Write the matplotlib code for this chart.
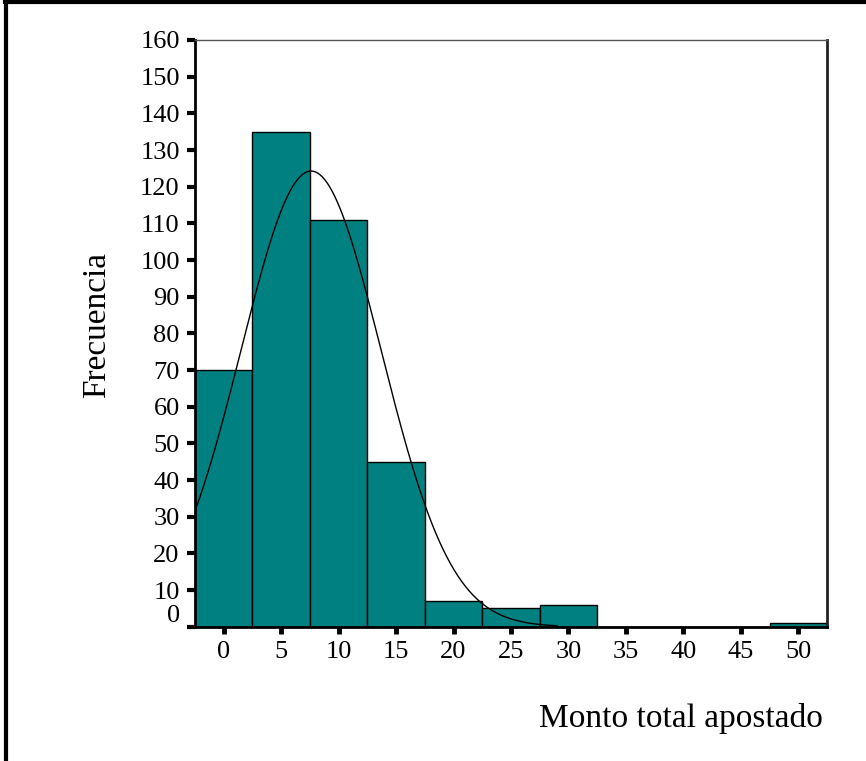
import numpy as np
import matplotlib
matplotlib.use("Agg")
import matplotlib.pyplot as plt
from matplotlib.transforms import ScaledTranslation
from matplotlib.lines import Line2D

# Data
bin_centers = [0, 5, 10, 15, 20, 25, 30, 35, 40, 45, 50]
frequencies = [70, 135, 111, 45, 7, 5, 6, 0, 0, 0, 1]
bin_width = 5
y_ticks = list(range(0, 161, 10))
x_ticks = [0, 5, 10, 15, 20, 25, 30, 35, 40, 45, 50]
curve_mean = 7.6
curve_sd = 6.1
curve_n = 380
curve_range = (-2.5, 29.0)
x_label = "Monto total apostado"
y_label = "Frecuencia"

plt.rcParams['font.family'] = ['Liberation Serif', 'DejaVu Serif']

fig = plt.figure(figsize=(8.66, 7.61), dpi=100)
ax = fig.add_axes([195/866, 1-626.7/761, (827-195)/866, (626.7-40)/761])

ax.bar(bin_centers, frequencies, width=bin_width, color='#008080',
       edgecolor='black', linewidth=1.0, zorder=2)

xs = np.linspace(curve_range[0], curve_range[1], 400)
ys = curve_n * bin_width / (curve_sd * np.sqrt(2*np.pi)) * np.exp(-0.5*((xs-curve_mean)/curve_sd)**2)
ax.plot(xs, ys, color='black', linewidth=1.0, zorder=3)

ax.set_xlim(-2.5, 52.5)
ax.set_ylim(0, 160)
ax.set_yticks(y_ticks)
ax.set_xticks(x_ticks)
ax.tick_params(axis='y', direction='out', length=6, width=3, labelsize=19, pad=5)
ax.tick_params(axis='x', direction='out', length=5, width=3.5, labelsize=19, pad=5)

for s in ['left', 'bottom']:
    ax.spines[s].set_linewidth(2)
    ax.spines[s].set_color('black')
ax.spines['right'].set_linewidth(2)
ax.spines['right'].set_color('#222222')
ax.spines['top'].set_linewidth(1)
ax.spines['top'].set_color('#555555')

fig.canvas.draw()
for lbl in ax.get_yticklabels():
    if lbl.get_text() == '0':
        lbl.set_transform(lbl.get_transform() + ScaledTranslation(0, 13/100, fig.dpi_scale_trans))

fig.text(681/866, 1-718/761, x_label, ha='center', va='center', fontsize=24)
fig.text(97/866, 1-325/761, y_label, ha='center', va='center', fontsize=24, rotation=90)

# outer frame (left and top lines)
fig.add_artist(Line2D([6/866, 6/866], [0, 1], transform=fig.transFigure, color='black', linewidth=3))
fig.add_artist(Line2D([5/866, 1], [1-2/761, 1-2/761], transform=fig.transFigure, color='black', linewidth=3))

fig.savefig('out.png', dpi=100)
